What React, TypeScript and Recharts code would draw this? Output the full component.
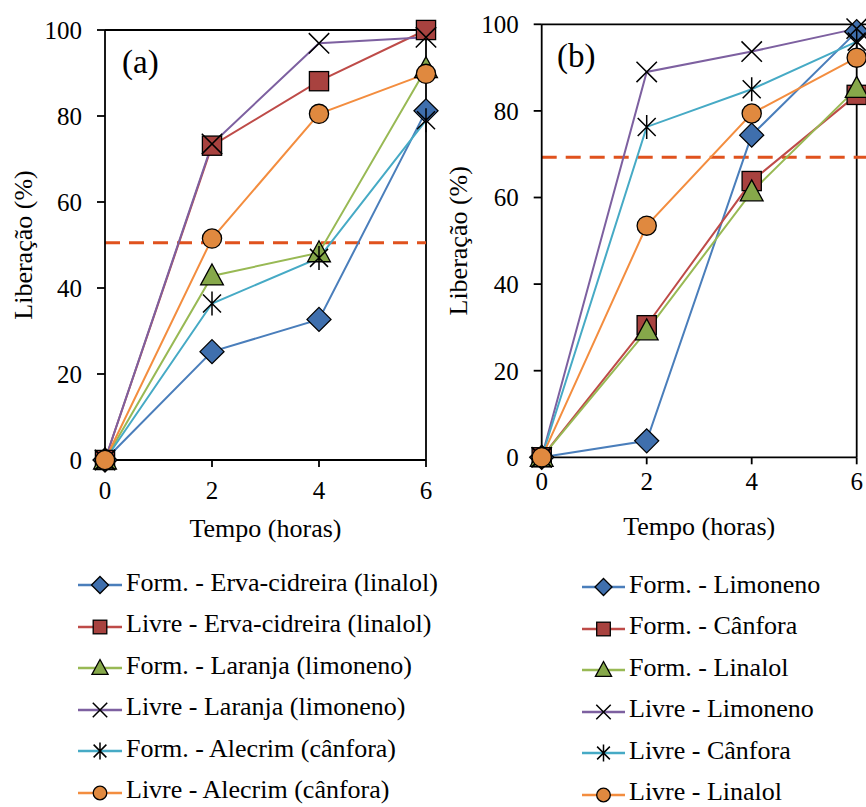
import React from "react";
import { LineChart, Line, XAxis, YAxis, ReferenceLine, Label } from "recharts";

// tempo (horas)
const hours = [0, 2, 4, 6];
const yTicks = [0, 20, 40, 60, 80, 100];

// (a) óleos essenciais
const formErva = [0, 25.2, 32.7, 81.2];
const livreErva = [0, 73.1, 88.1, 100];
const formLaranja = [0, 42.8, 48.2, 91];
const livreLaranja = [0, 73.5, 96.9, 98.3];
const formAlecrim = [0, 36.4, 47, 79];
const livreAlecrim = [0, 51.5, 80.5, 89.8];
const limiteA = 50.5;

// (b) compostos isolados
const formLimoneno = [0, 3.8, 74.4, 98.3];
const formCanfora = [0, 30.5, 63.8, 83.7];
const formLinalol = [0, 29.2, 61.3, 85.2];
const livreLimoneno = [0, 89, 93.7, 99];
const livreCanfora = [0, 76.3, 85, 96];
const livreLinalol = [0, 53.5, 79.4, 92.3];
const limiteB = 69.3;

type Shape = "diamond" | "square" | "triangle" | "x" | "star" | "circle";

interface Serie {
  key: string;
  name: string;
  values: number[];
  line: string;
  fill: string;
  shape: Shape;
}

const style = [
  { line: "#4A7EBB", fill: "#3F6FAD", shape: "diamond" as Shape },
  { line: "#BE4B48", fill: "#A8423F", shape: "square" as Shape },
  { line: "#98B954", fill: "#86A84A", shape: "triangle" as Shape },
  { line: "#7D60A0", fill: "none", shape: "x" as Shape },
  { line: "#46AAC5", fill: "none", shape: "star" as Shape },
  { line: "#F38D3F", fill: "#E0893F", shape: "circle" as Shape },
];

const seriesA: Serie[] = [
  { key: "a0", name: "Form. - Erva-cidreira (linalol)", values: formErva, ...style[0] },
  { key: "a1", name: "Livre - Erva-cidreira (linalol)", values: livreErva, ...style[1] },
  { key: "a2", name: "Form. - Laranja (limoneno)", values: formLaranja, ...style[2] },
  { key: "a3", name: "Livre - Laranja (limoneno)", values: livreLaranja, ...style[3] },
  { key: "a4", name: "Form. - Alecrim (cânfora)", values: formAlecrim, ...style[4] },
  { key: "a5", name: "Livre - Alecrim (cânfora)", values: livreAlecrim, ...style[5] },
];

const seriesB: Serie[] = [
  { key: "b0", name: "Form. - Limoneno", values: formLimoneno, ...style[0] },
  { key: "b1", name: "Form. - Cânfora", values: formCanfora, ...style[1] },
  { key: "b2", name: "Form. - Linalol", values: formLinalol, ...style[2] },
  { key: "b3", name: "Livre - Limoneno", values: livreLimoneno, ...style[3] },
  { key: "b4", name: "Livre - Cânfora", values: livreCanfora, ...style[4] },
  { key: "b5", name: "Livre - Linalol", values: livreLinalol, ...style[5] },
];

const toRows = (series: Serie[]) =>
  hours.map((t, i) => {
    const row: Record<string, number> = { t };
    series.forEach((s) => (row[s.key] = s.values[i]));
    return row;
  });

const FONT = "'Liberation Serif', 'Times New Roman', serif";

function Marker({ cx, cy, shape, fill, r }: { cx: number; cy: number; shape: Shape; fill: string; r: number }) {
  const stroke = "#000";
  switch (shape) {
    case "diamond":
      return (
        <path
          d={`M${cx},${cy - r} L${cx + r},${cy} L${cx},${cy + r} L${cx - r},${cy} Z`}
          fill={fill}
          stroke={stroke}
          strokeWidth={1.3}
        />
      );
    case "square": {
      const h = r * 0.8;
      return <rect x={cx - h} y={cy - h} width={2 * h} height={2 * h} fill={fill} stroke={stroke} strokeWidth={1.3} />;
    }
    case "triangle":
      return (
        <path
          d={`M${cx},${cy - r} L${cx + r * 0.95},${cy + r * 0.75} L${cx - r * 0.95},${cy + r * 0.75} Z`}
          fill={fill}
          stroke={stroke}
          strokeWidth={1.3}
        />
      );
    case "x": {
      const h = r * 0.85;
      return (
        <path
          d={`M${cx - h},${cy - h} L${cx + h},${cy + h} M${cx - h},${cy + h} L${cx + h},${cy - h}`}
          stroke={stroke}
          strokeWidth={1.5}
          fill="none"
        />
      );
    }
    case "star": {
      const h = r * 0.75;
      return (
        <path
          d={`M${cx - h},${cy - h} L${cx + h},${cy + h} M${cx - h},${cy + h} L${cx + h},${cy - h} M${cx},${cy - r} L${cx},${cy + r}`}
          stroke={stroke}
          strokeWidth={1.5}
          fill="none"
        />
      );
    }
    default:
      return <circle cx={cx} cy={cy} r={r * 0.8} fill={fill} stroke={stroke} strokeWidth={1.3} />;
  }
}

interface PanelProps {
  series: Serie[];
  limite: number;
  width: number;
  margin: { top: number; right: number; left: number; bottom: number };
  yAxisWidth: number;
  xTickMargin: number;
  titleOffset: number;
  yLabelX: number;
  topEnd: number;
}

function Panel({ series, limite, width, margin, yAxisWidth, xTickMargin, titleOffset, yLabelX, topEnd }: PanelProps) {
  const data = toRows(series);
  const tick = { fontSize: 25, fill: "#000", fontFamily: FONT };
  return (
    <LineChart width={width} height={807} data={data} margin={margin}>
      <XAxis
        dataKey="t"
        type="number"
        domain={[0, 6]}
        ticks={hours}
        tick={tick}
        tickSize={7}
        tickMargin={xTickMargin}
        stroke="#000"
        strokeWidth={1.8}
        height={80}
      >
        <Label value="Tempo (horas)" position="insideBottom" offset={titleOffset} fill="#000" fontSize={26} fontFamily={FONT} />
      </XAxis>
      <YAxis
        type="number"
        domain={[0, 100]}
        ticks={yTicks}
        tick={tick}
        tickSize={8}
        tickMargin={15}
        stroke="#000"
        strokeWidth={1.8}
        width={yAxisWidth}
      >
        <Label
          content={(p: any) => {
            const vb = p.viewBox;
            const x = vb.x + yLabelX;
            const y = vb.y + vb.height / 2;
            return (
              <text x={x} y={y} transform={`rotate(-90, ${x}, ${y})`} textAnchor="middle" fontSize={26} fontFamily={FONT} fill="#000">
                Liberação (%)
              </text>
            );
          }}
        />
      </YAxis>
      <ReferenceLine
        segment={[{ x: 0, y: 100 }, { x: topEnd, y: 100 }]}
        stroke="#000"
        strokeWidth={1.8}
        ifOverflow="visible"
      />
      <ReferenceLine x={6} stroke="#000" strokeWidth={1.8} />
      <ReferenceLine
        segment={[{ x: 0, y: limite }, { x: topEnd, y: limite }]}
        stroke="#E0521D"
        strokeWidth={3}
        strokeDasharray="15 9"
        ifOverflow="visible"
      />
      {series.map((s) => (
        <Line
          key={s.key}
          dataKey={s.key}
          name={s.name}
          type="linear"
          stroke={s.line}
          strokeWidth={2}
          isAnimationActive={false}
          activeDot={false}
          dot={(p: any) => <Marker key={`${s.key}-${p.index}`} cx={p.cx} cy={p.cy} shape={s.shape} fill={s.fill} r={12} />}
        />
      ))}
    </LineChart>
  );
}

function SerieLegend({ series, left, top, lineWidth }: { series: Serie[]; left: number; top: number; lineWidth: number }) {
  return (
    <div style={{ position: "absolute", left, top, fontFamily: FONT, fontSize: 26, color: "#000" }}>
      {series.map((s) => (
        <div key={s.key} style={{ height: 41.5, display: "flex", alignItems: "center", whiteSpace: "nowrap" }}>
          <svg width={lineWidth + 4} height={24} style={{ marginTop: 5, flex: "none" }}>
            <line x1={0} y1={12} x2={lineWidth} y2={12} stroke={s.line} strokeWidth={2.5} />
            <Marker cx={lineWidth / 2} cy={12} shape={s.shape} fill={s.fill} r={8.5} />
          </svg>
          <span>{s.name}</span>
        </div>
      ))}
    </div>
  );
}

export default function App() {
  return (
    <div
      style={{
        position: "absolute",
        left: 0,
        top: 0,
        width: 866,
        height: 807,
        overflow: "hidden",
        background: "#fff",
        fontFamily: FONT,
      }}
    >
      <div style={{ position: "absolute", left: 0, top: 0 }}>
        <Panel
          series={seriesA}
          limite={limiteA}
          width={440}
          margin={{ top: 30, right: 14, left: 0, bottom: 267 }}
          yAxisWidth={105}
          xTickMargin={14}
          titleOffset={3}
          yLabelX={31.7}
          topEnd={6}
        />
      </div>
      <div style={{ position: "absolute", left: 440, top: 0 }}>
        <Panel
          series={seriesB}
          limite={limiteB}
          width={426}
          margin={{ top: 24.3, right: 9.3, left: 0, bottom: 269.7 }}
          yAxisWidth={101.7}
          xTickMargin={8}
          titleOffset={2.3}
          yLabelX={27.3}
          topEnd={6.3}
        />
      </div>
      <div style={{ position: "absolute", left: 122, top: 46.3, fontSize: 33, lineHeight: "33px" }}>(a)</div>
      <div style={{ position: "absolute", left: 557, top: 40.3, fontSize: 33, lineHeight: "33px" }}>(b)</div>
      <SerieLegend series={seriesA} left={78} top={562} lineWidth={44} />
      <SerieLegend series={seriesB} left={582} top={564} lineWidth={43} />
    </div>
  );
}
